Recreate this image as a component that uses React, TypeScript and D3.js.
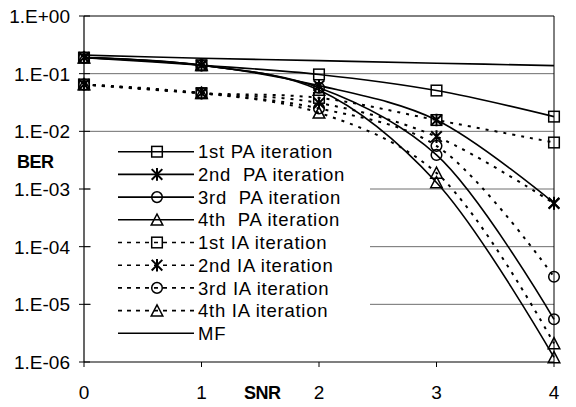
import React from "react";
import * as d3 from "d3";

// SNR points on the x axis
const snr = [0, 1, 2, 3, 4];

// BER per series
const mf = [0.21, 0.185, 0.168, 0.152, 0.138];
const pa1 = [0.19, 0.14, 0.097, 0.051, 0.018];
const pa2 = [0.19, 0.14, 0.062, 0.0157, 0.00057];
const pa3 = [0.19, 0.14, 0.057, 0.0039, 0.0000055];
const pa4 = [0.19, 0.14, 0.052, 0.0013, 0.0000012];
const ia1 = [0.065, 0.046, 0.038, 0.0157, 0.0064];
const ia2 = [0.065, 0.046, 0.031, 0.0081, 0.00056];
const ia3 = [0.065, 0.046, 0.025, 0.0056, 0.00003];
const ia4 = [0.065, 0.046, 0.021, 0.0019, 0.0000021];

const yTickValues = [1, 1e-1, 1e-2, 1e-3, 1e-4, 1e-5, 1e-6];
const yTickLabels = ["1.E+00", "1.E-01", "1.E-02", "1.E-03", "1.E-04", "1.E-05", "1.E-06"];
const xTickLabels = ["0", "1", "2", "3", "4"];

type Marker = "square" | "star" | "circle" | "triangle" | "none";

const series: { name: string; values: number[]; marker: Marker; dashed: boolean }[] = [
  { name: "1st PA iteration", values: pa1, marker: "square", dashed: false },
  { name: "2nd  PA iteration", values: pa2, marker: "star", dashed: false },
  { name: "3rd  PA iteration", values: pa3, marker: "circle", dashed: false },
  { name: "4th  PA iteration", values: pa4, marker: "triangle", dashed: false },
  { name: "1st IA iteration", values: ia1, marker: "square", dashed: true },
  { name: "2nd IA iteration", values: ia2, marker: "star", dashed: true },
  { name: "3rd IA iteration", values: ia3, marker: "circle", dashed: true },
  { name: "4th IA iteration", values: ia4, marker: "triangle", dashed: true },
  { name: "MF", values: mf, marker: "none", dashed: false },
];

const W = 576;
const H = 407;
const plot = { left: 84, right: 554, top: 16, bottom: 362 };
const FONT = "Liberation Sans, Arial, sans-serif";

const x = d3.scaleLinear().domain([0, 4]).range([plot.left, plot.right]);
const y = d3.scaleLog().domain([1e-6, 1]).range([plot.bottom, plot.top]);

const line = d3
  .line<[number, number]>()
  .x((d) => x(d[0]))
  .y((d) => y(d[1]))
  .curve(d3.curveCatmullRom.alpha(0.5));

function MarkerShape({ kind, cx, cy }: { kind: Marker; cx: number; cy: number }) {
  const s = 5.3;
  const common = { fill: "none", stroke: "#000", strokeWidth: 1.5 };
  if (kind === "square")
    return <rect x={cx - s} y={cy - s} width={2 * s} height={2 * s} {...common} />;
  if (kind === "circle") return <circle cx={cx} cy={cy} r={s} {...common} />;
  if (kind === "triangle")
    return (
      <path
        d={`M${cx},${cy - s - 0.5}L${cx + s + 0.5},${cy + s}L${cx - s - 0.5},${cy + s}Z`}
        {...common}
      />
    );
  if (kind === "star") {
    const a = s;
    return (
      <path
        d={`M${cx - a},${cy - a}L${cx + a},${cy + a}M${cx - a},${cy + a}L${cx + a},${cy - a}M${cx},${cy - a - 1}L${cx},${cy + a + 1}`}
        fill="none"
        stroke="#000"
        strokeWidth={2}
      />
    );
  }
  return null;
}

export default function App() {
  const legendX0 = 118;
  const legendX1 = 194;
  const legendY0 = 151.7;
  const legendStep = 22.7;

  return (
    <svg
      width={W}
      height={H}
      viewBox={`0 0 ${W} ${H}`}
      style={{ position: "absolute", left: 0, top: 0, background: "#fff" }}
      fontFamily={FONT}
    >
      <rect x={0} y={0} width={W} height={H} fill="#fff" />

      {/* horizontal gridlines */}
      {yTickValues.slice(1, 6).map((v) => (
        <line key={v} x1={plot.left} x2={plot.right} y1={y(v)} y2={y(v)} stroke="#6e6e6e" strokeWidth={1} />
      ))}
      {/* plot frame: top and right */}
      <line x1={plot.left} x2={plot.right} y1={plot.top} y2={plot.top} stroke="#000" strokeWidth={1} />
      <line x1={plot.right} x2={plot.right} y1={plot.top} y2={plot.bottom} stroke="#000" strokeWidth={1} />

      {/* series curves */}
      {series.map((s) => (
        <path
          key={s.name}
          d={line(snr.map((v, i) => [v, s.values[i]] as [number, number])) || ""}
          fill="none"
          stroke="#000"
          strokeWidth={s.dashed ? 2 : 1.6}
          strokeDasharray={s.dashed ? "3,6" : undefined}
        />
      ))}
      {/* markers */}
      {series.map((s) =>
        s.values.map((v, i) => (
          <MarkerShape key={s.name + i} kind={s.marker} cx={x(snr[i])} cy={y(v)} />
        ))
      )}

      {/* legend */}
      <rect x={91} y={138} width={279} height={207} fill="#fff" />
      {series.map((s, i) => {
        const ly = legendY0 + i * legendStep;
        return (
          <g key={s.name}>
            <line
              x1={legendX0}
              x2={legendX1}
              y1={ly}
              y2={ly}
              stroke="#000"
              strokeWidth={1.6}
              strokeDasharray={s.dashed ? "4,5" : undefined}
            />
            <MarkerShape kind={s.marker} cx={(legendX0 + legendX1) / 2 + 1} cy={ly} />
            <text
              x={198}
              y={ly}
              dy="0.36em"
              fontSize={18.5}
              fill="#000"
              letterSpacing={0.75}
              style={{ whiteSpace: "pre" }}
            >
              {s.name}
            </text>
          </g>
        );
      })}

      {/* axes */}
      <line x1={plot.left} x2={plot.left} y1={plot.top} y2={plot.bottom} stroke="#000" strokeWidth={1.2} />
      <line x1={plot.left} x2={plot.right} y1={plot.bottom} y2={plot.bottom} stroke="#000" strokeWidth={1.2} />

      {yTickValues.map((v, i) => (
        <g key={v}>
          <line x1={plot.left - 5} x2={plot.left + 6} y1={y(v)} y2={y(v)} stroke="#000" strokeWidth={1} />
          <text x={70} y={y(v)} dy="0.36em" textAnchor="end" fontSize={19} fill="#000">
            {yTickLabels[i]}
          </text>
        </g>
      ))}
      {snr.map((v, i) => (
        <g key={v}>
          <line x1={x(v)} x2={x(v)} y1={plot.bottom} y2={plot.bottom + 5} stroke="#000" strokeWidth={1} />
          <text x={x(v)} y={399} textAnchor="middle" fontSize={19} fill="#000">
            {xTickLabels[i]}
          </text>
        </g>
      ))}

      {/* axis titles */}
      <text x={17} y={167.5} fontSize={18} fontWeight="bold" fill="#000" letterSpacing={-0.5}>
        BER
      </text>
      <text x={244} y={399} fontSize={18} fontWeight="bold" fill="#000" letterSpacing={-0.5}>
        SNR
      </text>
    </svg>
  );
}
